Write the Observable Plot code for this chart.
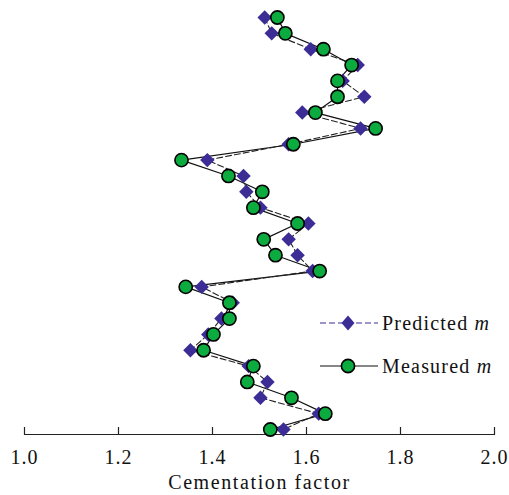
<!DOCTYPE html>
<html>
<head>
<meta charset="utf-8">
<script src="https://cdn.jsdelivr.net/npm/d3@7"></script>
<script src="https://cdn.jsdelivr.net/npm/@observablehq/plot@0.6"></script>
<style>
  body { margin: 0; background: #fff; }
  #wrap { position: relative; width: 509px; height: 495px; }
  #legend { position: absolute; left: 320px; top: 310px; font-family: "Liberation Serif", serif; font-size: 20px; letter-spacing: 1.2px; color: #111; z-index: 2; }
  .item { display: flex; align-items: center; height: 26px; white-space: nowrap; }
  .item svg { margin-right: 4px; display: block; overflow: visible; }
</style>
</head>
<body>
<div id="wrap"></div>
<script>
const predicted = [1.511, 1.526, 1.609, 1.709, 1.677, 1.723, 1.591, 1.715, 1.562, 1.389,
                   1.466, 1.472, 1.502, 1.604, 1.562, 1.581, 1.613, 1.377, 1.443, 1.419,
                   1.391, 1.353, 1.477, 1.517, 1.502, 1.626, 1.551];
const measured  = [1.538, 1.555, 1.636, 1.696, 1.666, 1.666, 1.619, 1.747, 1.572, 1.334,
                   1.434, 1.506, 1.487, 1.581, 1.509, 1.534, 1.628, 1.343, 1.436, 1.436,
                   1.402, 1.381, 1.487, 1.474, 1.568, 1.640, 1.523];
const xTicks = [1.0, 1.2, 1.4, 1.6, 1.8, 2.0];
const seriesNames = ["Predicted", "Measured"];
const xTitle = "Cementation factor";

const rows = predicted.map((p, i) => ({i: i + 1, predicted: p, measured: measured[i]}));

const green = "#0cab3f", purple = "#3b2d95";

const chart = Plot.plot({
  width: 509, height: 495,
  marginLeft: 24, marginRight: 15, marginTop: 17, marginBottom: 61,
  insetBottom: 5,
  style: {fontFamily: "Liberation Serif, serif", fontSize: "20px", color: "#111", background: "#fff", letterSpacing: "1px"},
  x: {domain: [1, 2]},
  y: {domain: [1, rows.length], reverse: true, axis: null},
  marks: [
    Plot.frame({anchor: "bottom", stroke: "#222", strokeWidth: 1.2}),
    Plot.tickX(xTicks, {x: d => d, insetTop: 410, stroke: "#222", strokeWidth: 1.2}),
    Plot.axisX({ticks: xTicks, tickSize: 0, tickPadding: 15, fontSize: 20,
      tickFormat: d => d.toFixed(1), label: null}),
    Plot.text([xTitle], {text: d => d, frameAnchor: "bottom", dy: 54, fontSize: 20,
      lineAnchor: "bottom", fill: "#111", style: "letter-spacing:1.6px"}),
    Plot.line(rows, {x: "measured", y: "i", stroke: "#111", strokeWidth: 1.2}),
    Plot.line(rows, {x: "predicted", y: "i", stroke: "#222", strokeWidth: 1.1, strokeDasharray: "6,3"}),
    Plot.dot(rows, {x: "predicted", y: "i", symbol: "diamond2", r: 6.5, fill: purple, stroke: "none"}),
    Plot.dot(rows, {x: "measured", y: "i", r: 6.6, fill: green, stroke: "#000", strokeWidth: 1.6})
  ]
});
chart.querySelectorAll("text").forEach(t => { if (t.textContent === xTitle) t.style.letterSpacing = "1.6px"; });
document.getElementById("wrap").appendChild(chart);

const legend = document.createElement("div");
legend.id = "legend";
legend.innerHTML = `
<div class="item">
  <svg width="58" height="20"><line x1="0" y1="10" x2="58" y2="10" stroke="${purple}" stroke-width="1.2" stroke-dasharray="6,3"></line>
  <path d="M28,2.5 L34.5,10 L28,17.5 L21.5,10 Z" fill="${purple}"></path></svg>
  <span>${seriesNames[0]} <i>m</i></span></div>
<div class="item" style="margin-top:17px">
  <svg width="58" height="20"><line x1="0" y1="10" x2="58" y2="10" stroke="#111" stroke-width="1.2"></line>
  <circle cx="28" cy="10" r="6.6" fill="${green}" stroke="#000" stroke-width="1.6"></circle></svg>
  <span>${seriesNames[1]} <i>m</i></span></div>`;
document.getElementById("wrap").appendChild(legend);
</script>
</body>
</html>
